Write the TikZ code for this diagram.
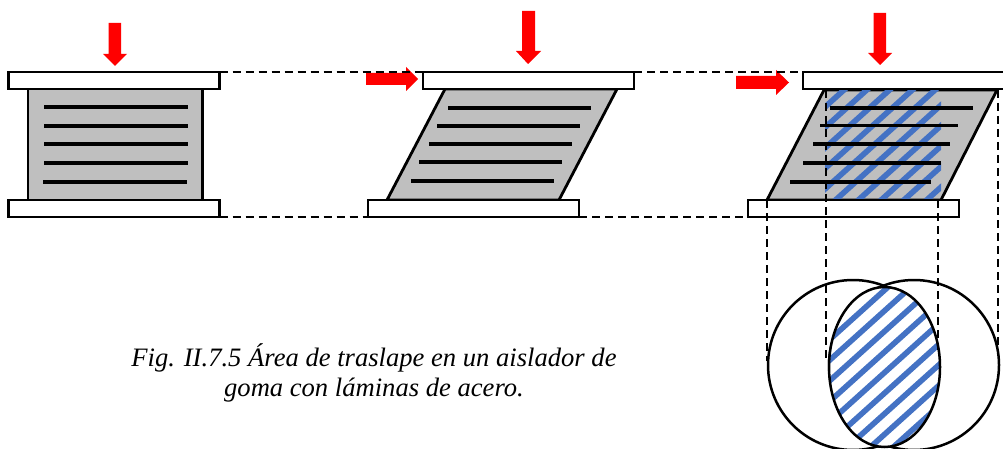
\documentclass[tikz,border=0pt]{standalone}
\usepackage{fontspec}
\setmainfont{Liberation Serif}
\definecolor{rubber}{HTML}{BFBFBF}
\definecolor{hatchblue}{HTML}{4472C4}
\tikzset{
  plate/.style={draw=black,fill=white,line width=2.8pt,inner sep=0pt,outer sep=0pt,minimum width=211pt,minimum height=17pt,anchor=north west},
  rubberbody/.style={draw=black,fill=rubber,line width=2.8pt,line join=miter},
  steel/.style={draw=black,line width=3.4pt},
  guide/.style={draw=black,line width=1.7pt,dash pattern=on 8pt off 5pt},
  redarrow/.style={fill=red,draw=none},
  stripe/.style={draw=hatchblue,line width=5.6pt},
  ring/.style={draw=black,line width=2.5pt},
  caption/.style={align=center,inner sep=0pt,font=\fontsize{26.6pt}{30pt}\selectfont\itshape}
}
\begin{document}
\begin{tikzpicture}[x=1pt,y=-1pt]
\useasboundingbox (0,0) rectangle (1003,449);
% first isolator
\draw[rubberbody] (28,89) rectangle (202.5,200);
\foreach \yy/\xa/\xb in {107/44/188,126/44/188,144/44/188,163/44/188,182/43/187}
  \draw[steel] (\xa,\yy) -- (\xb,\yy);
\node[plate] (p1t) at (8.5,72) {};
\node[plate] (p1b) at (8.5,200) {};
\fill[redarrow] (108.5,23) -- (121,23) -- (121,54) -- (127,54) -- (115,66) -- (103,54) -- (108.5,54) -- cycle;
% second isolator
\draw[rubberbody] (445,89) -- (617,89) -- (559,200) -- (387,200) -- cycle;
\foreach \yy/\xa/\xb in {108/448/591,126/437/580,144/429/572,162/419/562,181/411/554}
  \draw[steel] (\xa,\yy) -- (\xb,\yy);
\node[plate] (p2t) at (423,72) {};
\node[plate] (p2b) at (368,200) {};
\fill[redarrow] (522,11) -- (535,11) -- (535,51) -- (541,51) -- (528,64) -- (516,51) -- (522,51) -- cycle;
\fill[redarrow] (366,73) -- (406,73) -- (406,67) -- (418,79) -- (406,91) -- (406,85) -- (366,85) -- cycle;
% third isolator
\draw[rubberbody] (824,90) -- (997,90) -- (941,200) -- (767,200) -- cycle;
\begin{scope}
  \clip (825,91) rectangle (941,199);
  \foreach \i in {-1,...,11}
    \draw[stripe] (803,{54.8+20.5*\i+72}) -- (963,{54.8+20.5*\i-72});
\end{scope}
\foreach \yy/\xa/\xb in {108/830/973,125.5/820/958,144/813/950,163/803/941,182/790/931}
  \draw[steel] (\xa,\yy) -- (\xb,\yy);
\node[plate] (p3t) at (803,72) {};
\node[plate] (p3b) at (748,200) {};
\fill[redarrow] (873.5,13) -- (886,13) -- (886,53) -- (892,53) -- (880,65) -- (868,53) -- (873.5,53) -- cycle;
\fill[redarrow] (736,76) -- (776,76) -- (776,70) -- (789,82.5) -- (776,95) -- (776,89) -- (736,89) -- cycle;
% guide lines between plates
\draw[guide] (p1t.north east) -- (p2t.north west);
\draw[guide] (p2t.north east) -- (p3t.north west);
\draw[guide] (p1b.south east) -- (p2b.south west);
\draw[guide] (p2b.south east) -- (p3b.south west);
% projection circles
\node[ring,circle,inner sep=0pt,outer sep=0pt,minimum size=170pt] (cl) at (853,365) {};
\node[ring,circle,inner sep=0pt,outer sep=0pt,minimum size=170pt] (cr) at (914,365) {};
\fill[white] (884.5,367) ellipse [x radius=55.5pt,y radius=80pt];
\begin{scope}
  \clip (884.5,367) ellipse [x radius=55.5pt,y radius=80pt];
  \foreach \i in {-4,...,11}
    \draw[stripe] (804.5,{310.8+20.6*\i+72}) -- (964.5,{310.8+20.6*\i-72});
\end{scope}
\draw[ring] (884.5,367) ellipse [x radius=55.5pt,y radius=80pt];
% vertical projection lines
\coordinate (v1) at (767,361);
\coordinate (v2) at (826,361);
\coordinate (v3) at (938,350);
\coordinate (v4) at (998,349);
\draw[guide] (767,200) -- (v1);
\draw[guide] (826,90) -- (v2);
\draw[guide] (938,200) -- (v3);
\draw[guide] (998,90) -- (v4);
\node[caption] (cap) at (374,373) {Fig. II.7.5 Área de traslape en un aislador de\\goma con láminas de acero.};
\end{tikzpicture}
\end{document}
